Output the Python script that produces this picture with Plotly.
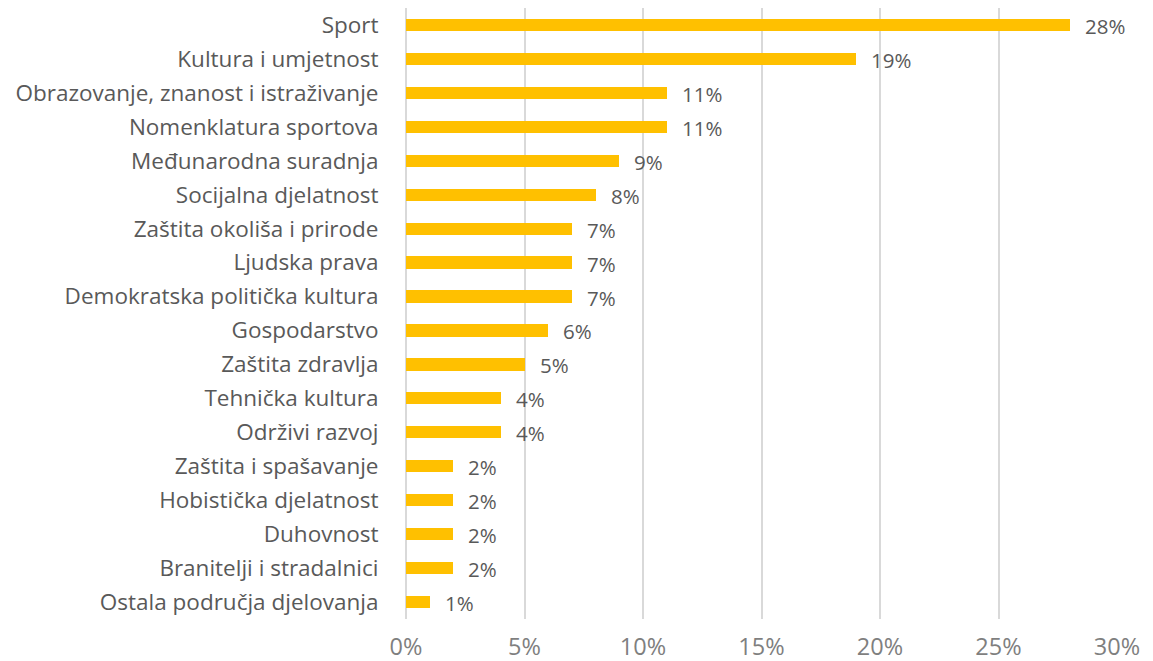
import plotly.graph_objects as go

categories = [
    "Sport",
    "Kultura i umjetnost",
    "Obrazovanje, znanost i istraživanje",
    "Nomenklatura sportova",
    "Međunarodna suradnja",
    "Socijalna djelatnost",
    "Zaštita okoliša i prirode",
    "Ljudska prava",
    "Demokratska politička kultura",
    "Gospodarstvo",
    "Zaštita zdravlja",
    "Tehnička kultura",
    "Održivi razvoj",
    "Zaštita i spašavanje",
    "Hobistička djelatnost",
    "Duhovnost",
    "Branitelji i stradalnici",
    "Ostala područja djelovanja",
]
shares = [28, 19, 11, 11, 9, 8, 7, 7, 7, 6, 5, 4, 4, 2, 2, 2, 2, 1]
tick_vals = [0, 5, 10, 15, 20, 25, 30]
tick_text = ["0%", "5%", "10%", "15%", "20%", "25%", "30%"]

FONT = "Open Sans"
BAR = "#FFC000"
TEXT = "#595959"
GRID = "#D9D9D9"

fig = go.Figure()
fig.add_trace(go.Bar(
    x=shares,
    y=categories,
    orientation="h",
    marker=dict(color=BAR, line=dict(width=0)),
    width=0.36,
    hoverinfo="skip",
))

for c, v in zip(categories, shares):
    fig.add_annotation(
        x=v, y=c, text=f"{v}%", showarrow=False,
        xanchor="left", yanchor="middle", xshift=13, yshift=-1,
        font=dict(family=FONT, size=20.5, color=TEXT),
    )

fig.update_layout(
    width=1153, height=661,
    margin=dict(l=406, r=36, t=8, b=42),
    paper_bgcolor="white", plot_bgcolor="white",
    showlegend=False,
    bargap=0,
)
fig.update_xaxes(
    range=[0, 30],
    tickvals=tick_vals, ticktext=tick_text,
    showgrid=True, gridcolor=GRID, gridwidth=1.5,
    zeroline=True, zerolinecolor=GRID, zerolinewidth=1.5,
    tickfont=dict(family=FONT, size=23.5, color="#7F7F7F"),
    ticks="outside", ticklen=7, tickcolor="rgba(0,0,0,0)",
    automargin=False,
    fixedrange=True,
)
fig.update_yaxes(
    categoryorder="array", categoryarray=categories[::-1],
    autorange=False, range=[-0.5, len(categories) - 0.5],
    showgrid=False, zeroline=False,
    tickfont=dict(family=FONT, size=22.5, color=TEXT),
    ticks="outside", ticklen=22, tickcolor="rgba(0,0,0,0)",
    automargin=False,
    fixedrange=True,
)

fig.write_html("out.html")
